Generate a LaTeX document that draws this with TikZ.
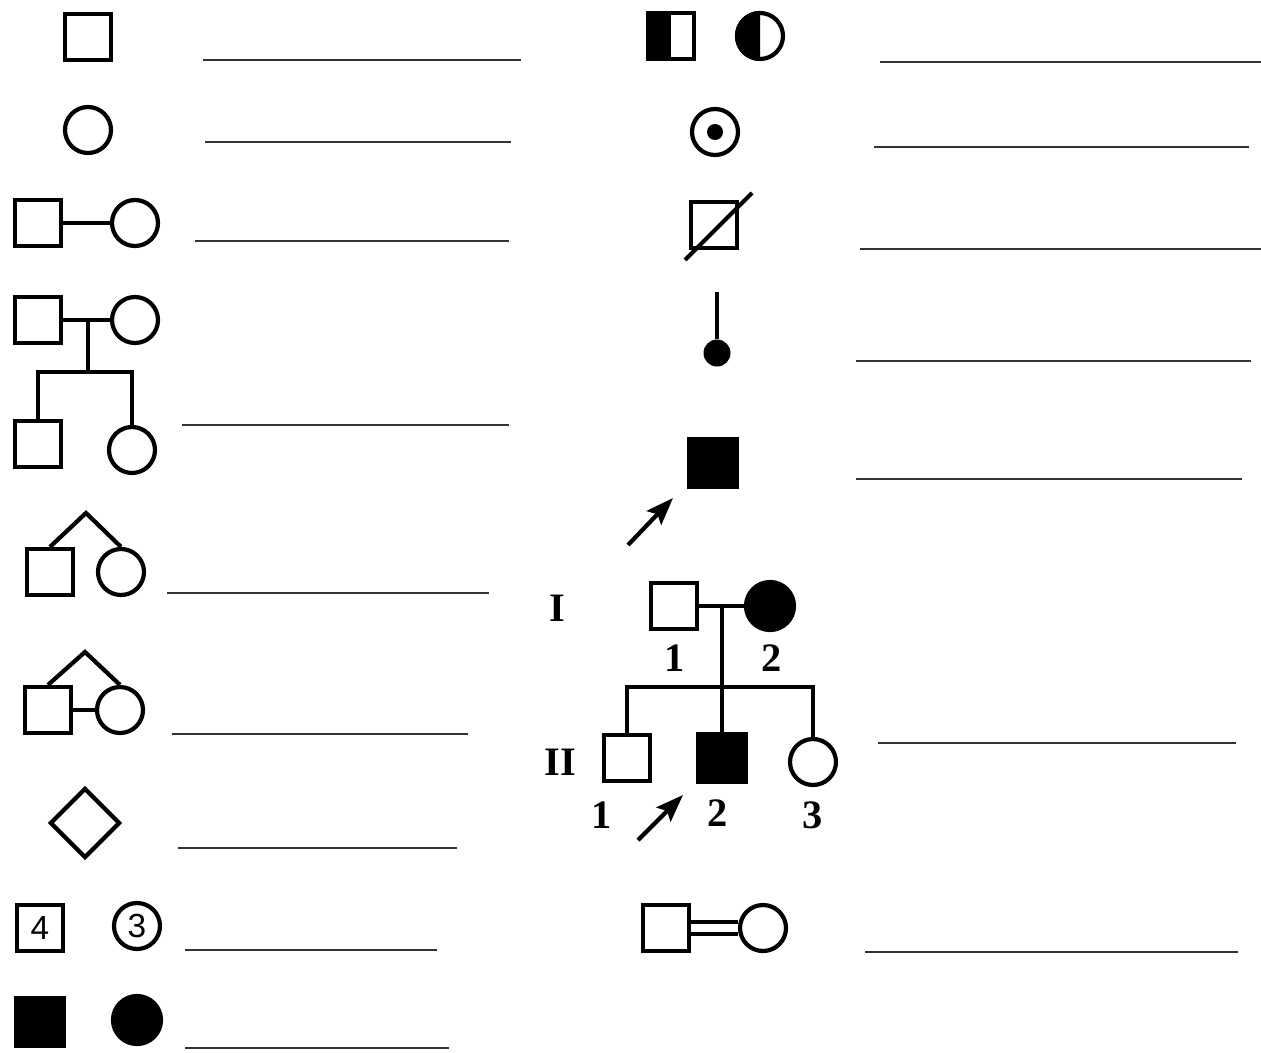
\documentclass[tikz,border=0pt]{standalone}
\usepackage{fontspec}
\setmainfont{Liberation Serif}
\newfontfamily\digitfont{Liberation Sans}
\usetikzlibrary{shapes.geometric,arrows.meta}
\tikzset{
  man/.style={draw, rectangle, minimum size=0.92cm, inner sep=0pt, line width=2.4pt},
  woman/.style={draw, circle, minimum size=0.92cm, inner sep=0pt, line width=2.4pt},
  sick/.style={fill=black, minimum size=0.96cm},
  link/.style={line width=2.4pt},
  blank/.style={line width=1.3pt, black!80},
  gen/.style={font=\fontsize{23}{26}\selectfont\bfseries},
  inner/.style={font=\fontsize{19}{21}\selectfont\digitfont},
  pointer/.style={line width=2.4pt, -{Stealth[length=0.55cm, width=0.4cm, inset=0.1cm]}},
}
\begin{document}
\begin{tikzpicture}[x=0.02cm, y=-0.02cm]
    \useasboundingbox (0,0) rectangle (1261,1052);
    % Left-hand symbols
    \node[man] (ma) at (88,37) {};
    \node[woman] (wa) at (88,130) {};
    \node[man] (mb) at (38,223) {};
    \node[woman] (wb) at (135,223) {};
    \draw[link] (mb) -- (wb);
    \node[man] (mc) at (38,320) {};
    \node[woman] (wc) at (135,320) {};
    \draw[link] (mc) -- (wc);
    \coordinate (fc) at (88,320);
    \coordinate (sc) at (88,372);
    \node[man] (md) at (38,444) {};
    \node[woman] (wd) at (132,450) {};
    \draw[link] (fc) -- (sc);
    \draw[link] (md.north) |- (sc) -| (wd.north);
    \node[man] (me) at (50,572) {};
    \node[woman] (we) at (121,572) {};
    \coordinate (te) at (86,513);
    \draw[link] (me.north) -- (te) -- (we.north);
    \node[man] (mf) at (48,710) {};
    \node[woman] (wf) at (120,710) {};
    \coordinate (tf) at (85,652);
    \draw[link] (mf.north) -- (tf) -- (wf.north);
    \draw[link] (mf) -- (wf);
    \node[draw, diamond, minimum size=1.4cm, inner sep=0pt, line width=2.4pt] (dg) at (85,823) {};
    \node[man, inner] (mh) at (40,928) {4};
    \node[woman, inner] (wh) at (137,926) {3};
    \node[man, sick] (mi) at (40,1022) {};
    \node[woman, sick] (wi) at (137,1020) {};
    % Right-hand symbols
    \node[man] (mj) at (671,36) {};
    \fill (mj.north west) rectangle (mj.south);
    \node[woman] (wj) at (760,36) {};
    \fill (wj.north) arc[start angle=90, end angle=270, radius=0.5cm] -- cycle;
    \node[woman] (wk) at (715,132) {};
    \fill (wk.center) circle (0.16cm);
    \node[man] (ml) at (714,225) {};
    \coordinate (la) at (685,260);
    \coordinate (lb) at (752,193);
    \draw[link] (la) -- (lb);
    \coordinate (stem) at (717,292);
    \node[circle, fill, minimum size=0.54cm, inner sep=0pt] (dot) at (717,353) {};
    \draw[link] (stem) -- (dot);
    \node[man, sick] (mn) at (713,463) {};
    \coordinate (na) at (628,545);
    \coordinate (nb) at (673,498);
    \draw[pointer] (na) -- (nb);
    % Pedigree
    \node[gen] (g1) at (557,608) {I};
    \node[gen] (g2) at (560,762) {II};
    \node[man] (p11) at (674,606) {};
    \node[woman, sick] (p12) at (770,606) {};
    \draw[link] (p11) -- (p12);
    \node[gen] (n11) at (675,658) {1};
    \node[gen] (n12) at (772,658) {2};
    \coordinate (fo) at (722,606);
    \coordinate (so) at (722,687);
    \node[man] (p21) at (627,758) {};
    \node[man, sick] (p22) at (722,758) {};
    \node[woman] (p23) at (813,762) {};
    \draw[link] (fo) -- (p22.north);
    \draw[link] (p21.north) |- (so) -| (p23.north);
    \node[gen] (n21) at (602,815) {1};
    \node[gen] (n22) at (718,813) {2};
    \node[gen] (n23) at (813,815) {3};
    \coordinate (oa) at (638,840);
    \coordinate (ob) at (683,795);
    \draw[pointer] (oa) -- (ob);
    \node[man] (mq) at (666,928) {};
    \node[woman] (wq) at (763,928) {};
    \draw[link, double, double distance=0.17cm] (mq) -- (wq);
    % Answer lines
    \draw[blank] (203,60) -- (521,60);
    \draw[blank] (205,142) -- (511,142);
    \draw[blank] (195,241) -- (509,241);
    \draw[blank] (182,425) -- (509,425);
    \draw[blank] (167,593) -- (489,593);
    \draw[blank] (172,734) -- (468,734);
    \draw[blank] (178,848) -- (457,848);
    \draw[blank] (185,950) -- (437,950);
    \draw[blank] (185,1048) -- (449,1048);
    \draw[blank] (880,62) -- (1261,62);
    \draw[blank] (874,147) -- (1249,147);
    \draw[blank] (860,249) -- (1261,249);
    \draw[blank] (856,361) -- (1251,361);
    \draw[blank] (856,479) -- (1242,479);
    \draw[blank] (878,743) -- (1236,743);
    \draw[blank] (865,952) -- (1238,952);
\end{tikzpicture}
\end{document}
